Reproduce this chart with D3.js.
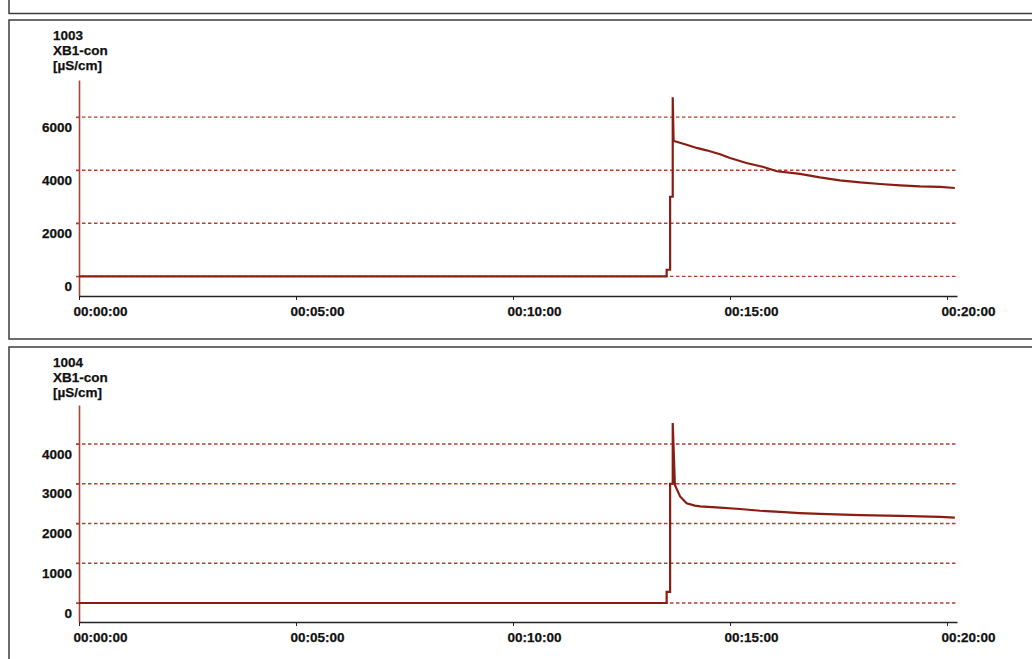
<!DOCTYPE html>
<html>
<head>
<meta charset="utf-8">
<script src="https://cdn.jsdelivr.net/npm/d3@7"></script>
<style>
  html, body { margin: 0; padding: 0; background: #fff; }
  svg { display: block; }
  text { font-family: "Liberation Sans", Arial, sans-serif; font-weight: bold; fill: #111; stroke: #111; stroke-width: 0.25px; }
</style>
</head>
<body>
<svg id="chart" width="1032" height="659"></svg>
<script>
// Conductivity recordings, two probes, time in minutes from start of run
const channelName = "XB1-con";
const unitLabel = "[µS/cm]";
const timeTickMinutes = [0, 5, 10, 15, 20];
const timeTickLabels = ["00:00:00", "00:05:00", "00:10:00", "00:15:00", "00:20:00"];

const probe1003Id = "1003";
const probe1003Time = [0, 13.54, 13.54, 13.62, 13.62, 13.68, 13.68, 13.70, 13.73, 14.00, 14.23, 14.46, 14.77, 15.00, 15.38, 15.77, 16.08, 16.61, 17.07, 17.53, 18.00, 18.46, 18.92, 19.38, 19.84, 20.18];
const probe1003Value = [0, 0, 250, 250, 3000, 3000, 6750, 5100, 5090, 4960, 4840, 4750, 4600, 4460, 4270, 4120, 3960, 3860, 3730, 3620, 3540, 3480, 3430, 3390, 3370, 3330];
const probe1003Ticks = [0, 2000, 4000, 6000];

const probe1004Id = "1004";
const probe1004Time = [0, 13.54, 13.54, 13.62, 13.62, 13.68, 13.68, 13.73, 13.85, 14.00, 14.19, 14.31, 14.77, 15.23, 15.69, 16.15, 16.61, 17.07, 18.00, 18.92, 19.84, 20.18];
const probe1004Value = [0, 0, 280, 280, 3000, 3000, 4530, 2970, 2680, 2510, 2450, 2430, 2400, 2365, 2320, 2290, 2260, 2240, 2210, 2190, 2165, 2150];
const probe1004Ticks = [0, 1000, 2000, 3000, 4000];

const svg = d3.select("#chart");
const lineColor = "#8a1d13";
const axisRed = "#a64536";
const gridRed = "#b3402f";
const frameColor = "#3c3c3c";

// frame of the strip above
svg.append("path")
  .attr("d", "M9,0 V13.5 H1032")
  .attr("fill", "none").attr("stroke", frameColor).attr("stroke-width", 1.5);

const x = d3.scaleLinear().domain([0, 20.23]).range([79, 957]);

function drawPanel(cfg) {
  const g = svg.append("g").attr("transform", `translate(0,${cfg.top})`);

  // panel frame (open to the right edge)
  g.append("path")
    .attr("d", `M1032,0 H9 V${cfg.frameBottom} H1032`)
    .attr("fill", "none").attr("stroke", frameColor).attr("stroke-width", 1.5);

  // probe heading
  const head = g.append("text").attr("x", 53).attr("font-size", 13.5);
  [cfg.id, channelName, unitLabel].forEach((s, i) => {
    head.append("tspan").attr("x", 53).attr("y", 20 + i * 15).text(s);
  });

  const y = d3.scaleLinear().domain(cfg.yDomain).range([cfg.axisY, cfg.axisTop]);

  // dashed reference lines
  g.append("g").selectAll("line").data(cfg.ticks).join("line")
    .attr("x1", 76).attr("x2", 957)
    .attr("y1", d => y(d)).attr("y2", d => y(d))
    .attr("stroke", gridRed).attr("stroke-width", 1.4)
    .attr("stroke-dasharray", "3.5,2.5");

  // value axis
  const ya = g.append("g").attr("transform", "translate(79,0)")
    .call(d3.axisLeft(y).tickValues(cfg.ticks).tickFormat(d3.format("d"))
      .tickSize(3).tickSizeOuter(0).tickPadding(4));
  ya.attr("font-family", null).attr("font-size", null);
  ya.select(".domain").attr("stroke", axisRed).attr("stroke-width", 1.6);
  ya.selectAll(".tick line").attr("stroke", axisRed);
  ya.selectAll(".tick text")
    .attr("font-size", 13.5).attr("dy", "1.05em")
    .attr("fill", "#111");

  // time axis
  const xa = g.append("g").attr("transform", `translate(0,${cfg.axisY})`)
    .call(d3.axisBottom(x).tickValues(timeTickMinutes)
      .tickFormat((d, i) => timeTickLabels[i]).tickSize(4).tickSizeOuter(0));
  xa.attr("font-family", null).attr("font-size", null);
  xa.select(".domain").attr("stroke", "#222").attr("stroke-width", 1.3);
  xa.selectAll(".tick line").attr("stroke", "#222");
  xa.selectAll(".tick text")
    .attr("font-size", 13.5).attr("text-anchor", "start")
    .attr("x", -6).attr("y", 20).attr("dy", 0).attr("fill", "#111");

  // recorded trace
  const pts = cfg.time.map((t, i) => [t, cfg.value[i]]);
  g.append("path")
    .datum(pts)
    .attr("fill", "none")
    .attr("stroke", lineColor)
    .attr("stroke-width", 2.2)
    .attr("stroke-linejoin", "miter")
    .attr("d", d3.line().x(d => x(d[0])).y(d => y(d[1])));
}

drawPanel({
  id: probe1003Id, time: probe1003Time, value: probe1003Value, ticks: probe1003Ticks,
  top: 20, frameBottom: 319, axisTop: 60, axisY: 276, yDomain: [-740, 7400]
});

drawPanel({
  id: probe1004Id, time: probe1004Time, value: probe1004Value, ticks: probe1004Ticks,
  top: 347, frameBottom: 330, axisTop: 58, axisY: 275, yDomain: [-478, 4981]
});
</script>
</body>
</html>
